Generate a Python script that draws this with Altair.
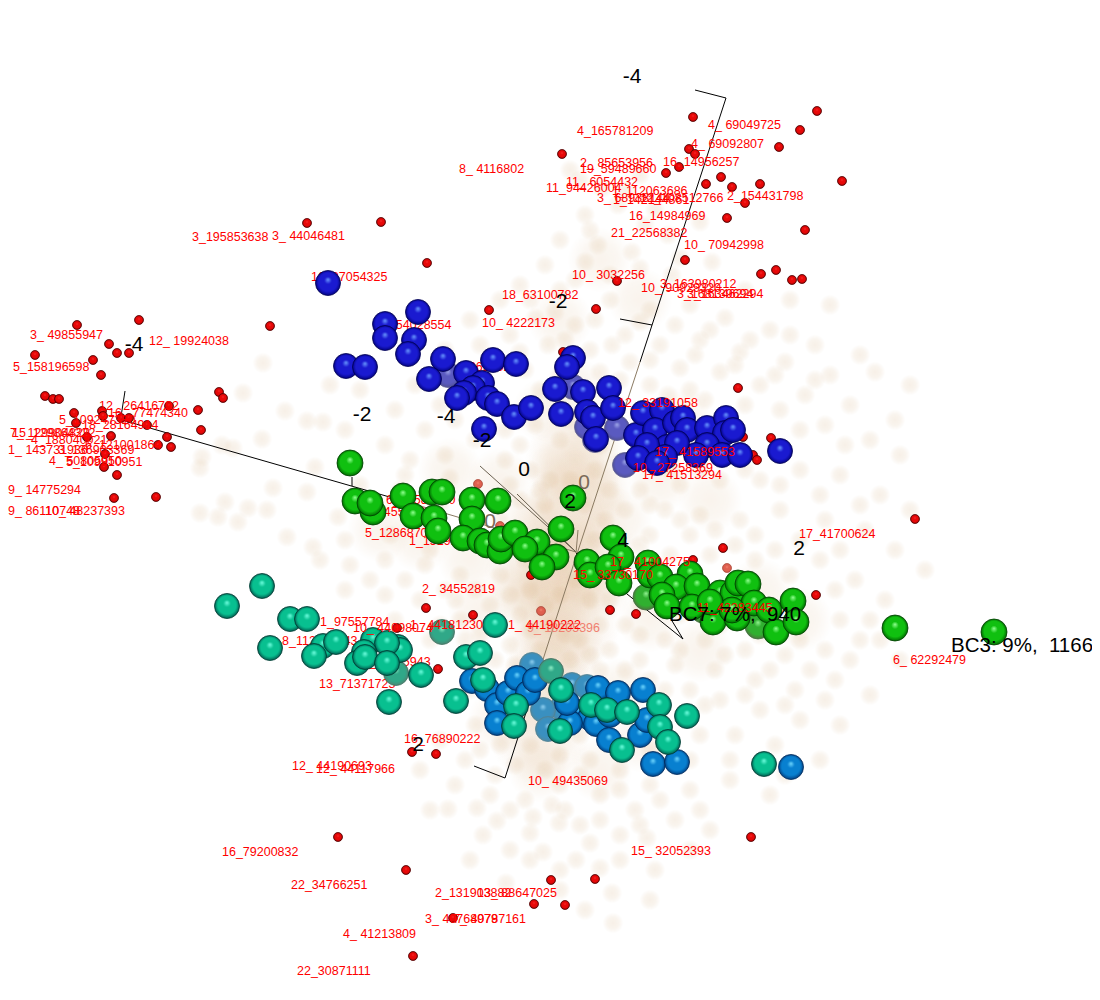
import altair as alt
import pandas as pd

blue_fog = [(448,375),(573,387),(617,428),(625,465),(595,440),(587,427)]
blue = [(328,283),(418,312),(385,324),(385,338),(414,340),(408,354),(346,366),(365,367),(443,359),(429,379),
        (466,373),(493,360),(516,364),(482,383),(473,388),(464,393),(457,398),(488,398),(497,404),(514,417),
        (531,408),(484,429),(573,358),(567,367),(555,389),(583,392),(561,414),(609,388),(587,412),(593,418),
        (596,439),(613,408),(636,435),(643,413),(662,410),(655,430),(675,423),(683,418),(687,430),(707,428),
        (726,418),(725,433),(733,430),(707,445),(696,455),(722,455),(740,455),(780,451),(667,447),(677,443),
        (647,445),(638,458),(665,457),(657,463)]
green_fog = [(703,610),(758,626),(646,597)]
green = [(350,463),(355,501),(373,512),(370,503),(403,496),(432,492),(442,492),(413,516),(434,518),(438,531),
         (472,500),(498,501),(472,519),(463,538),(480,541),(487,545),(500,551),(501,539),(515,533),(537,542),
         (525,549),(556,557),(542,567),(561,529),(573,498),(587,562),(613,538),(621,557),(590,575),(608,567),
         (619,583),(648,563),(650,575),(660,577),(690,574),(676,587),(697,586),(662,595),(667,606),(692,607),
         (713,622),(720,593),(733,593),(738,583),(748,584),(754,603),(737,618),(769,610),(776,632),(793,601),
         (796,622),(732,610),(710,602),(895,628),(994,632)]
cyan_fog = [(532,665),(562,708),(543,710),(548,729),(572,685),(587,687)]
cyan = [(472,681),(487,689),(497,705),(497,723),(508,693),(517,678),(528,693),(535,680),(598,688),(618,693),
        (643,690),(578,712),(590,718),(596,724),(609,740),(640,735),(647,720),(653,764),(677,762),(791,767),
        (570,723),(567,703),(610,715)]
teal_fog = [(551,671),(396,673),(442,632)]
teal = [(262,586),(227,606),(290,619),(307,619),(270,648),(323,646),(336,642),(314,656),(373,640),(398,647),
        (400,650),(387,643),(364,652),(357,663),(365,657),(387,663),(421,675),(495,625),(466,657),(480,653),
        (389,702),(456,701),(483,680),(561,690),(516,706),(514,726),(560,731),(591,705),(607,710),(627,712),
        (659,705),(687,716),(660,727),(668,742),(622,750),(764,764)]

red_pts = [(693,117),(817,111),(800,130),(779,147),(689,149),(695,154),(562,154),(679,167),(666,173),(721,177),
           (706,184),(732,187),(760,184),(842,181),(745,203),(727,218),(805,230),(685,260),(776,270),(761,274),
           (792,280),(802,279),(617,281),(596,309),(307,223),(381,222),(427,263),(270,326),(489,310),(139,320),
           (77,325),(109,344),(117,353),(129,353),(93,360),(35,355),(101,375),(45,396),(53,399),(59,399),
           (219,392),(223,398),(74,413),(102,411),(103,416),(76,423),(121,418),(129,418),(147,425),(198,410),
           (169,406),(201,430),(87,437),(111,436),(167,437),(158,445),(171,447),(105,454),(104,467),(117,475),
           (114,498),(156,497),(563,352),(738,388),(743,437),(771,438),(753,455),(757,460),(915,519),(723,548),
           (693,560),(816,595),(610,610),(636,614),(531,575),(426,608),(473,615),(397,628),(438,669),(412,752),
           (436,754),(751,837),(338,837),(406,870),(595,879),(551,880),(534,904),(565,905),(453,918),(413,956)]
red_fog_pts = [(478,484),(500,526),(727,568),(541,611)]

labels_back = [("16_87054325",311,277),("1_154028554",375,325),("1_86626021",448,367),("6_14588300",386,500),
               ("1_14551880",363,512),("5_128687045",365,533),("1_151915562",409,541),("8_112490643",282,641),
               ("1_97557784",320,622),("1_11265943",362,662),("13_71371723",319,684)]
labels = [("4_165781209",577,131),("4_ 69049725",708,125),("4_ 69092807",691,144),("2_ 85653956",580,163),
          ("19_59489660",580,169),("16_14956257",663,162),("11_ 6054432",566,182),("11_94426004",546,188),
          ("1_112063686",612,191),("3_ 68938144",597,198),("1_142144861",613,200),("12_108512766",640,198),
          ("2_154431798",727,196),("16_14984969",629,216),("21_22568382",611,233),("10_ 70942998",684,245),
          ("10_ 3032256",572,275),("3_163980212",660,284),("10_ 90929320",641,288),("3_168139694",677,294),
          ("3_163462294",687,294),("18_63100782",502,295),("10_ 4222173",482,323),("3_195853638",192,237),
          ("3_ 44046481",272,236),("8_ 4116802",459,169),("3_ 49855947",30,335),("12_ 19924038",149,341),
          ("5_158196598",13,367),("12_ 26416792",99,406),("16_ 77474340",108,413),("5_109247320",59,420),
          ("18_28164914",82,425),("7_ 129904829",10,433),("15_129864322",12,433),("4_188040021",31,440),
          ("1_ 143731936",8,450),("3_136903369",58,450),("6_121001864",85,445),("4_ 50805950",49,461),
          ("5_109910951",66,462),("9_ 14775294",8,490),("9_ 86110748",8,511),("10_ 48237393",45,511),
          ("12_ 33191058",618,403),("17_ 41589553",655,452),("10_ 27258369",633,468),("17_ 41513294",642,475),
          ("2_ 34552819",422,589),("17_ 41004275",610,562),("15_ 33730170",573,575),("17_41700624",799,534),
          ("11_42283445",697,608),("6_ 62292479",893,660),("10_ 44098074",353,628),("1_ 44181230",410,625),
          ("1_ 44190222",508,625),("16_76890222",404,739),("12_ 44190693",292,766),("12_ 44117966",316,769),
          ("10_ 49435069",528,781),("16_79200832",222,852),("15_ 32052393",631,851),("22_34766251",291,885),
          ("2_131903882",435,893),("13_ 88647025",477,893),("3_ 40768979",425,919),("7_ 40787161",453,919),
          ("4_ 41213809",343,934),("22_30871111",297,971)]
labels_faded = [("9_ 18205396",527,628)]
black_labels = [("-4",632,77),("-2",558,302),("-4",134,345),("-2",362,415),("-4",446,417),("-2",482,441),
                ("0",524,470),("2",570,502),("4",623,541),("2",799,549),("2",418,745)]
grey_labels = [("0",584,483),("0",490,522)]
bc_labels = [("BC7: 7%,\u00a0\u00a0940",669,615),("BC3: 9%,\u00a0\u00a01166",951,646)]

axis_segments = [
    (726,98,640,362,"#000000"),(640,362,575,560,"#8a7a62"),(575,560,530,700,"#8a7a62"),(530,700,505,778,"#000000"),
    (726,98,695,90,"#000000"),(505,778,474,766,"#000000"),(652,325,620,319,"#000000"),
    (122,420,400,500,"#000000"),(400,500,576,552,"#8a7a62"),(125,391,120,423,"#000000"),(352,477,352,486,"#000000"),
    (480,466,576,552,"#6a6050"),(517,494,576,552,"#6a6050"),(578,530,576,553,"#8a7a62"),
    (576,553,683,639,"#000000"),(663,606,683,639,"#000000"),(615,577,626,592,"#000000"),
]

fog_spots = [
 (263,363),(243,393),(285,411),(307,421),(323,422),(262,439),(233,448),(222,445),(202,457),(200,468),
 (315,467),(273,488),(307,492),(225,502),(200,513),(218,517),(248,508),(267,510),(238,522),(287,537),
 (338,517),(313,547),(448,809),(477,808),(497,821),(483,835),(530,833),(533,817),(552,805),(559,823),
 (590,843),(543,852),(530,860),(576,860),(600,868),(612,893),(506,883),(560,890),(613,923),(647,838),
 (570,170),(602,188),(640,175),(585,215),(618,205),(655,210),(560,240),(598,245),(632,252),(668,235),
 (700,222),(545,265),(585,262),(640,268),(672,275),(712,262),(745,290),(790,300),(830,305),(520,285),
 (560,290),(610,300),(650,310),(690,305),(725,318),(770,330),(815,345),(860,355),(500,300),(535,318),
 (575,325),(625,335),(660,345),(700,340),(740,352),(785,362),(830,375),(875,372),(910,385),(470,320),
 (510,335),(548,345),(590,350),(630,362),(680,368),(720,372),(760,385),(805,395),(850,405),(895,420),
 (415,385),(445,350),(480,345),(525,370),(560,375),(600,372),(650,385),(690,390),(780,410),(825,425),
 (870,440),(900,455),(330,385),(360,390),(395,410),(425,430),(455,420),(505,430),(535,425),(560,440),
 (600,445),(640,490),(680,485),(720,480),(760,480),(800,470),(840,475),(880,495),(910,510),(345,430),
 (385,445),(410,460),(445,455),(505,460),(530,470),(550,480),(595,470),(625,510),(665,510),(700,515),
 (740,520),(780,510),(825,520),(865,530),(895,550),(360,485),(405,475),(450,478),(520,500),(545,505),
 (585,505),(605,520),(650,535),(690,535),(735,545),(775,550),(820,560),(855,580),(885,600),(925,570),
 (320,560),(350,565),(385,560),(425,565),(460,575),(500,575),(530,590),(560,595),(590,600),(625,625),
 (665,640),(705,640),(745,650),(785,655),(825,650),(860,640),(900,660),(345,590),(385,595),(420,600),
 (455,600),(490,605),(520,615),(550,625),(580,640),(610,650),(640,660),(675,665),(715,670),(755,680),
 (795,690),(835,680),(870,695),(440,625),(480,635),(510,645),(540,650),(570,660),(600,670),(650,680),
 (690,690),(720,700),(760,710),(800,720),(840,725),(465,640),(495,660),(525,680),(555,690),(585,700),
 (620,715),(700,735),(735,735),(775,745),(820,760),(450,700),(475,725),(500,745),(530,745),(560,755),
 (590,760),(620,770),(650,785),(690,790),(730,780),(770,795),(440,740),(465,760),(495,775),(525,800),
 (560,785),(600,795),(635,810),(675,820),(710,830),(420,770),(455,785),(580,825),(620,835),(690,850),
 (430,810),(655,870),(470,860),(585,910),(650,900),
]
fog_spots2 = [
 (580,180),(625,190),(590,230),(645,225),(680,258),(610,275),(575,280),(530,300),(555,312),(595,320),
 (640,322),(675,325),(710,330),(750,340),(790,335),(520,352),(565,340),(612,345),(650,360),(695,355),
 (735,365),(775,375),(815,380),(490,365),(540,390),(620,380),(668,395),(705,400),(745,405),(800,430),
 (845,445),(440,405),(475,440),(520,445),(570,420),(620,462),(670,470),(700,470),(745,470),(780,485),
 (820,495),(860,505),(400,490),(440,505),(510,485),(540,490),(570,480),(610,490),(650,505),(680,520),
 (715,530),(755,535),(800,540),(840,550),(345,540),(390,535),(430,550),(500,520),(525,560),(560,545),
 (595,540),(640,545),(670,555),(710,555),(755,560),(790,575),(835,590),(870,620),(370,580),(405,580),
 (445,590),(475,590),(510,595),(545,605),(575,580),(610,600),(640,605),(680,615),(720,625),(760,635),
 (800,640),(840,620),(880,640),(395,620),(430,640),(460,620),(495,625),(530,630),(565,635),(600,625),
 (640,635),(680,650),(725,655),(770,670),(810,670),(850,660),(480,665),(515,665),(550,670),(590,655),
 (625,670),(665,690),(705,705),(745,695),(785,705),(825,700),(470,690),(510,700),(545,715),(580,735),
 (615,740),(650,750),(690,760),(730,760),(785,775),(480,750),(515,765),(545,770),(580,775),(620,790),
 (660,800),(700,810),(490,795),(510,810),(565,810),(600,820),(640,825),(510,850),(560,870),(620,860),
]
fog_mid = [(560,320),(575,390),(545,410),(590,440),(560,470),(600,490),(530,520),(620,520),(660,480),(710,500),
           (500,480),(470,560),(520,590),(600,590),(650,620),(480,610),(700,650),(620,690),(540,770),(500,720),
           (640,740),(600,770),(420,540),(760,590),(640,300),(680,420),(600,260),(450,470),(380,530),(800,620)]
fog_core = [(560,530),(565,570),(550,610),(555,650),(545,690),(575,500),(575,460),(590,560),(535,570),(570,625),(540,735)]

X = alt.X("x:Q", axis=None, scale=alt.Scale(domain=[8, 1092], nice=False, zero=False))
Y = alt.Y("y:Q", axis=None, scale=alt.Scale(domain=[992, 8], nice=False, zero=False))


def spheres(points, hi, mid, edge, diam, outline):
    grad = {"gradient": "radial", "x1": 0.5, "y1": 0.36, "r1": 0.0, "x2": 0.5, "y2": 0.5, "r2": 0.52,
            "stops": [{"offset": 0, "color": hi}, {"offset": 0.28, "color": mid}, {"offset": 0.72, "color": mid},
                      {"offset": 1, "color": edge}]}
    df = pd.DataFrame(points, columns=["x", "y"])
    return alt.Chart(df).mark_circle(fill=grad, stroke=outline, strokeWidth=0.8, opacity=1, size=diam * diam).encode(x=X, y=Y)


def soft(points, rgb, alpha, diam):
    grad = {"gradient": "radial", "x1": 0.5, "y1": 0.5, "r1": 0, "x2": 0.5, "y2": 0.5, "r2": 0.5,
            "stops": [{"offset": 0, "color": f"rgba({rgb},{alpha})"}, {"offset": 0.55, "color": f"rgba({rgb},{alpha * 0.7})"},
                      {"offset": 1, "color": f"rgba({rgb},0)"}]}
    df = pd.DataFrame(points, columns=["x", "y"])
    return alt.Chart(df).mark_circle(fill=grad, opacity=1, size=diam * diam).encode(x=X, y=Y)


def texts(rows, color, size, opacity=1.0, align="left"):
    df = pd.DataFrame(rows, columns=["t", "x", "y"])
    return alt.Chart(df).mark_text(align=align, baseline="middle", font="Liberation Sans", fontSize=size,
                                   color=color, opacity=opacity).encode(x=X, y=Y, text="t:N")


seg_df = pd.DataFrame(axis_segments, columns=["x", "y", "x2", "y2", "c"])
segs = alt.Chart(seg_df).mark_rule(strokeWidth=1).encode(x=X, y=Y, x2="x2:Q", y2="y2:Q",
                                                         color=alt.Color("c:N", scale=None))

layers = [
    soft(fog_core, "205,150,90", 0.16, 100),
    soft(fog_mid, "210,165,110", 0.13, 65),
    soft(fog_spots, "205,160,105", 0.16, 21),
    soft(fog_spots2, "205,160,105", 0.16, 21),
    segs,
    spheres(red_fog_pts, "#ff9a80", "#e06050", "#c05040", 9, "#b05040"),
    spheres(red_pts, "#ff4040", "#e80808", "#800000", 9, "#500000"),
    texts(labels_back, "#ff0000", 12.5),
    texts(labels_faded, "#f08070", 12.5),
    spheres(blue_fog, "#a0a8e8", "#5a5ac0", "#505090", 25, "#606090"),
    spheres(blue, "#6a9aff", "#1a1ad0", "#000078", 25, "#000050"),
    spheres(green_fog, "#90f090", "#30b030", "#507040", 26, "#407040"),
    spheres(green, "#90ff90", "#10c010", "#006000", 26, "#004000"),
    spheres(cyan_fog, "#90d0f0", "#3a90c0", "#5088a0", 25, "#508090"),
    spheres(cyan, "#70d8ff", "#0880d0", "#003878", 25, "#002858"),
    spheres(teal_fog, "#90f0c8", "#30a888", "#508070", 25, "#407060"),
    spheres(teal, "#70ffe0", "#08c090", "#005048", 25, "#003830"),
    texts(labels, "#ff0000", 12.5),
    texts(black_labels, "#000000", 21, align="center"),
    texts(grey_labels, "#7a6a58", 21, align="center"),
    texts(bc_labels, "#000000", 20.5),
]

chart = alt.layer(*layers).properties(width=1084, height=984, padding=0,
                                      autosize=alt.AutoSizeParams(type="none")).configure_view(stroke=None)
chart.save("out.html", embed_options={"renderer": "svg", "actions": False})
